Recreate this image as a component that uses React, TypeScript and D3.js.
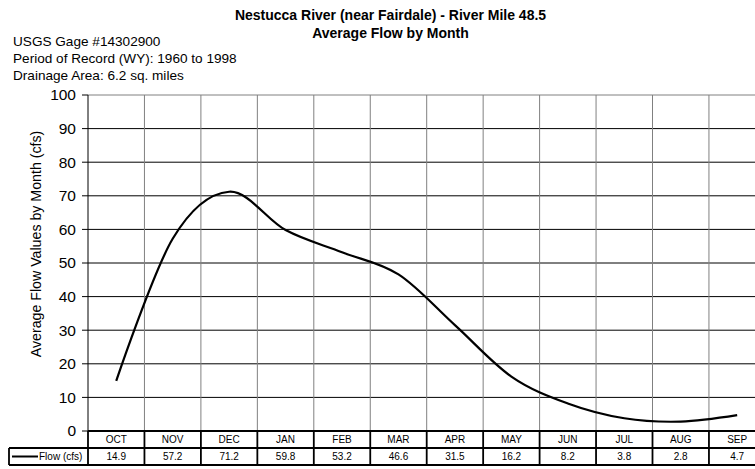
import React from "react";
import * as d3 from "d3";

const months = ["OCT", "NOV", "DEC", "JAN", "FEB", "MAR", "APR", "MAY", "JUN", "JUL", "AUG", "SEP"];
const flowValues = [14.9, 57.2, 71.2, 59.8, 53.2, 46.6, 31.5, 16.2, 8.2, 3.8, 2.8, 4.7];
const yTicks = [0, 10, 20, 30, 40, 50, 60, 70, 80, 90, 100];
const titleLines = ["Nestucca River (near Fairdale) - River Mile 48.5", "Average Flow by Month"];
const infoLines = ["USGS Gage #14302900", "Period of Record (WY): 1960 to 1998", "Drainage Area: 6.2 sq. miles"];
const seriesName = "Flow (cfs)";
const yTitle = "Average Flow Values by Month (cfs)";

const W = 755;
const H = 469;
const left = 88;
const right = 765.4;
const top = 95;
const bottom = 431;
const row1 = 448;
const row2 = 465;
const legendLeft = 9;

export default function App() {
  const x = d3.scaleBand<string>().domain(months).range([left, right]).paddingInner(0).paddingOuter(0);
  const y = d3.scaleLinear().domain([0, 100]).range([bottom, top]);
  const line = d3
    .line<number>()
    .x((_, i) => (x(months[i]) as number) + x.bandwidth() / 2)
    .y((d) => y(d))
    .curve(d3.curveCatmullRom.alpha(0));
  const font = "Arial, 'Liberation Sans', sans-serif";
  const boundaries = months.map((m) => x(m) as number).concat([right]);

  return (
    <svg
      width={W}
      height={H}
      style={{ position: "absolute", left: 0, top: 0, background: "#fff", overflow: "hidden" }}
      fontFamily={font}
    >
      <rect x={0} y={0} width={W} height={H} fill="#fff" />
      {titleLines.map((t, i) => (
        <text key={t} x={390.5} y={19.5 + i * 18} textAnchor="middle" fontSize={14} fontWeight="bold">
          {t}
        </text>
      ))}
      {infoLines.map((t, i) => (
        <text key={t} x={13} y={45.5 + i * 17} fontSize={13.6}>
          {t}
        </text>
      ))}
      {/* horizontal gridlines */}
      {yTicks.map((t) => (
        <line key={"h" + t} x1={left} x2={right} y1={y(t)} y2={y(t)} stroke={t === 100 ? "#808080" : "#000"} strokeWidth={1} />
      ))}
      {/* vertical gridlines */}
      {boundaries.slice(1).map((b, i) => (
        <line key={"v" + i} x1={b} x2={b} y1={top} y2={bottom} stroke="#808080" strokeWidth={1} />
      ))}
      {/* y axis */}
      <line x1={left} x2={left} y1={top} y2={bottom} stroke="#000" strokeWidth={1} />
      {yTicks.map((t) => (
        <g key={"t" + t}>
          <line x1={left - 6} x2={left} y1={y(t)} y2={y(t)} stroke="#000" />
          <text x={76} y={y(t)} dy="0.35em" textAnchor="end" fontSize={15.5}>
            {t}
          </text>
        </g>
      ))}
      <text
        transform={`translate(40.5,244) rotate(-90)`}
        textAnchor="middle"
        fontSize={14.2}
      >
        {yTitle}
      </text>
      {/* data line */}
      <path d={line(flowValues) || ""} fill="none" stroke="#000" strokeWidth={2.2} />
      {/* data table */}
      <g stroke="#000" strokeWidth={1.8}>
        <line x1={left} x2={right} y1={bottom} y2={bottom} />
        <line x1={legendLeft} x2={right} y1={row1} y2={row1} />
        <line x1={legendLeft} x2={right} y1={row2} y2={row2} />
        <line x1={legendLeft} x2={legendLeft} y1={row1} y2={row2} />
        {boundaries.map((b, i) => (
          <line key={"tb" + i} x1={b} x2={b} y1={bottom} y2={row2} />
        ))}
      </g>
      {months.map((m, i) => (
        <g key={"c" + m}>
          <text x={(x(m) as number) + x.bandwidth() / 2} y={(bottom + row1) / 2} dy="0.35em" textAnchor="middle" fontSize={10}>
            {m}
          </text>
          <text x={(x(m) as number) + x.bandwidth() / 2} y={(row1 + row2) / 2} dy="0.35em" textAnchor="middle" fontSize={10}>
            {flowValues[i].toFixed(1)}
          </text>
        </g>
      ))}
      <line x1={12} x2={38} y1={(row1 + row2) / 2} y2={(row1 + row2) / 2} stroke="#000" strokeWidth={2} />
      <text x={39} y={(row1 + row2) / 2} dy="0.35em" fontSize={10}>
        {seriesName}
      </text>
    </svg>
  );
}
